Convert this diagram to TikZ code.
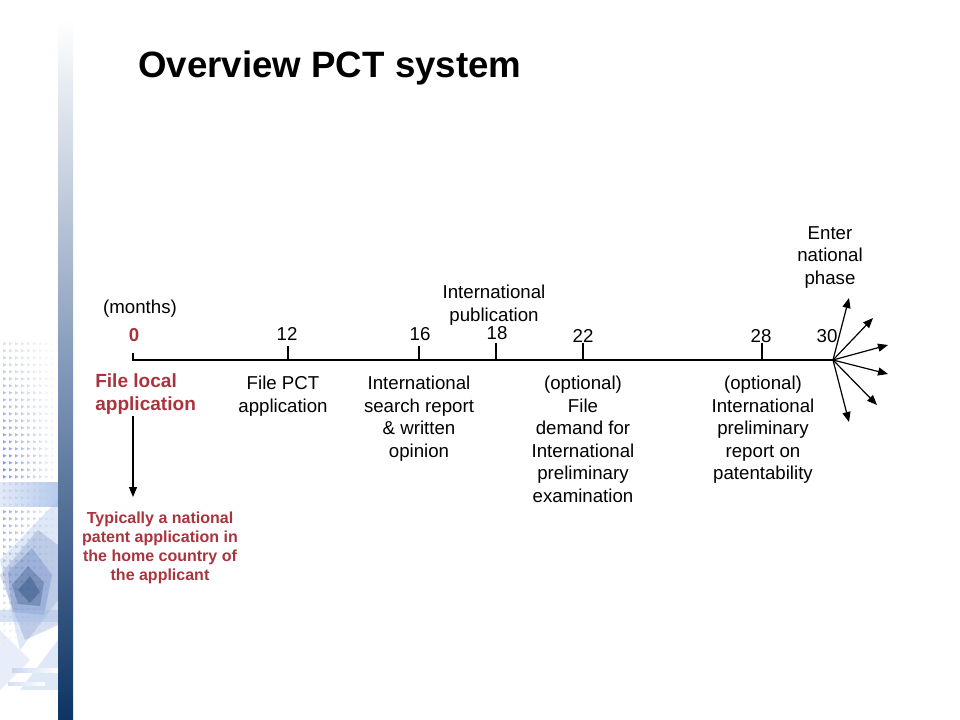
\documentclass[tikz,border=0pt]{standalone}
\usepackage{fontspec}
\setmainfont{Liberation Sans}
\usetikzlibrary{arrows.meta}
\definecolor{redtxt}{RGB}{170,52,62}
\definecolor{navy}{RGB}{14,52,100}
\definecolor{midblue}{RGB}{130,152,185}
\definecolor{lblue}{RGB}{165,190,232}
\definecolor{dotblue}{RGB}{110,140,210}
\definecolor{dblue}{RGB}{35,75,160}
\begin{document}
\begin{tikzpicture}[x=0.75pt,y=-0.75pt,
  lbl/.style={inner sep=0pt, align=center, font=\fontsize{14}{16.9}\selectfont, anchor=north},
  num/.style={inner sep=0pt, font=\fontsize{14}{16}\selectfont, anchor=north},
  redlbl/.style={inner sep=0pt, align=left, text=redtxt, font=\bfseries\fontsize{14.3}{17.3}\selectfont, anchor=north west},
  rednote/.style={inner sep=0pt, align=center, text=redtxt, font=\bfseries\fontsize{12}{14.25}\selectfont, anchor=north},
  axisline/.style={line width=0.9pt},
  tickline/.style={line width=0.9pt},
  arr/.style={line width=0.9pt,-{Triangle[length=7.5pt,width=6pt]}}]
\useasboundingbox (0,0) rectangle (960,720);
\fill[white] (0,0) rectangle (960,720);
% ---------- decoration on the left ----------
\foreach \i in {0,...,8}{
  \foreach \j in {0,...,44}{
    \pgfmathsetmacro{\op}{max(0,0.9*(1-\i/9)*(1-abs(\j-18)/26))}
    \fill[dotblue, opacity=\op] (3+\i*6, 342+\j*7) -- ++(3.5,1.8) -- ++(-3.5,1.8) -- cycle;
  }
}
\shade[left color=lblue!40, right color=lblue, opacity=0.8] (0,482) rectangle (58,506);
\fill[lblue, opacity=0.35] (0,560) -- (58,500) -- (58,600) -- (20,650) -- cycle;
\fill[dblue, opacity=0.18] (0,575) -- (38,530) -- (58,545) -- (58,625) -- (25,640) -- cycle;
\fill[dblue, opacity=0.2] (8,572) -- (32,548) -- (52,575) -- (44,615) -- (12,612) -- cycle;
\fill[navy, opacity=0.25] (12,585) -- (28,566) -- (44,582) -- (40,606) -- (18,604) -- cycle;
\fill[navy, opacity=0.3] (18,590) -- (30,576) -- (40,592) -- (30,603) -- cycle;
\fill[lblue, opacity=0.45] (0,610) rectangle (58,622);
\fill[lblue, opacity=0.35] (20,690) -- (58,640) -- (58,690) -- cycle;
\fill[lblue, opacity=0.25] (0,630) -- (30,660) -- (0,690) -- cycle;
\shade[left color=lblue!60, right color=white] (12,668) rectangle (58,672);
\shade[left color=lblue!50, right color=white] (8,682) rectangle (45,685);
% vertical gradient strip
\shade[top color=white, bottom color=navy, middle color=midblue] (58,20) rectangle (73,720);
% ---------- title ----------
\node[inner sep=0pt, anchor=north west, font=\bfseries\fontsize{27.5}{32}\selectfont] (title) at (138,51) {Overview PCT system};
% ---------- timeline ----------
\coordinate (t0) at (133,360);
\coordinate (t30) at (833,360);
\coordinate (k0) at (133,353);
\coordinate (k12) at (288,346);
\coordinate (k16) at (419,346);
\coordinate (k18) at (496,343);
\coordinate (k22) at (583,343);
\coordinate (k28) at (762,343);
\draw[axisline] (k0) -- (t0) -- (t30);
\foreach \k in {k12,k16,k18,k22,k28}{ \draw[tickline] (\k) -- (\k |- t0); }
% numbers
\node[num] (lm) at (140,300) {(months)};
\node[num, text=redtxt, font=\bfseries\fontsize{14}{16}\selectfont] (n0) at (134,328) {0};
\node[num] (n12) at (287,327) {12};
\node[num] (n16) at (420,327) {16};
\node[num] (n18) at (497,326) {18};
\node[num] (n22) at (583,329) {22};
\node[num] (n28) at (761,329) {28};
\node[num] (n30) at (827,329) {30};
% labels above
\node[lbl] (pub) at (494,285) {International\\publication};
\node[lbl] (enter) at (830,226) {Enter\\national\\phase};
% labels below
\node[redlbl] (local) at (95,373) {File local\\application};
\node[lbl] (pct) at (283,376) {File PCT\\application};
\node[lbl] (isr) at (419,376) {International\\search report\\\& written\\opinion};
\node[lbl] (dem) at (583,376) {(optional)\\File\\demand for\\International\\preliminary\\examination};
\node[lbl] (iprp) at (763,376) {(optional)\\International\\preliminary\\report on\\patentability};
\node[rednote] (typ) at (160,512) {Typically a national\\patent application  in\\the home country of\\the applicant};
% arrow down from local filing
\coordinate (a1) at (133,416);
\coordinate (a2) at (133,497);
\draw[arr] (a1) -- (a2);
% national phase fan
\coordinate (e1) at (849,298);
\coordinate (e2) at (873,318);
\coordinate (e3) at (888,345);
\coordinate (e4) at (888,374);
\coordinate (e5) at (877,405);
\coordinate (e6) at (849,422);
\foreach \e in {e1,e2,e3,e4,e5,e6}{ \draw[arr] (t30) -- (\e); }
\end{tikzpicture}
\end{document}
